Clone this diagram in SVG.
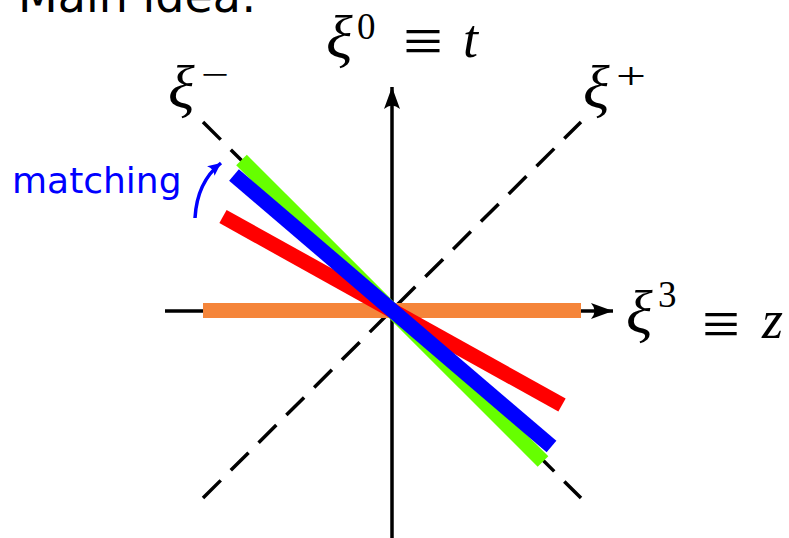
<svg xmlns="http://www.w3.org/2000/svg" width="789" height="538" viewBox="0 0 789 538">
<style>
.ax{stroke:#000;stroke-width:3.5;fill:none}
.dash{stroke:#000;stroke-width:3.5;fill:none;stroke-dasharray:25 14.2}
.bar{stroke-width:15;fill:none;stroke-linecap:butt}
.m{font-family:"Liberation Serif","DejaVu Serif",serif;font-size:54px;fill:#000}
.xi{font-style:italic;font-size:62px}
.mi{font-style:italic}
.eq{font-size:66px}
.sup{font-size:37px}
.sans{font-family:"DejaVu Sans",sans-serif}
</style>
<defs>
<marker id="ah" markerUnits="userSpaceOnUse" viewBox="-24 -10 26 20" markerWidth="26" markerHeight="20" refX="0" refY="0" orient="auto">
<path d="M0,0 L-22,-8 Q-15,0 -22,8 Z" fill="#000"/>
</marker>
<marker id="bh" markerUnits="userSpaceOnUse" viewBox="-16 -8 18 16" markerWidth="18" markerHeight="16" refX="0" refY="0" orient="auto">
<path d="M0,0 L-13,-6 Q-9,0 -13,6 Z" fill="#0000ff"/>
</marker>
</defs>
<text class="sans" x="18" y="12" font-size="46" fill="#000">Main idea:</text>
<g id="connectors">
<line class="dash" x1="203" y1="122" x2="581" y2="498"/>
<line class="dash" x1="203" y1="498" x2="581" y2="122"/>
<line class="ax" x1="392" y1="538" x2="392" y2="87" marker-end="url(#ah)"/>
<line class="ax" x1="165" y1="311" x2="613" y2="311" marker-end="url(#ah)"/>
<path d="M195,218 Q197,182 221,163" stroke="#0000ff" stroke-width="3.5" fill="none" marker-end="url(#bh)"/>
</g>
<g id="orange"><line class="bar" stroke="#f5853a" x1="203" y1="310.5" x2="581" y2="310.5"/></g>
<g id="green"><line class="bar" stroke="#66ff00" x1="241.5" y1="160" x2="543" y2="461.5"/></g>
<g id="red"><line class="bar" stroke="#ff0000" x1="223" y1="216.5" x2="562" y2="405"/></g>
<g id="blue"><line class="bar" stroke="#0000ff" x1="234" y1="175" x2="551.5" y2="446.5"/></g>
<g id="label-t">
<text class="m xi" x="326" y="58">ξ</text>
<text class="m sup" x="357" y="39">0</text>
<text class="m eq" x="403" y="63" textLength="40" lengthAdjust="spacingAndGlyphs">≡</text>
<text class="m mi" x="463" y="57">t</text>
</g>
<g id="label-minus">
<text class="m xi" x="168" y="108">ξ</text>
<text class="m sup" x="201" y="87" textLength="28" lengthAdjust="spacingAndGlyphs">−</text>
</g>
<g id="label-plus">
<text class="m xi" x="583" y="108">ξ</text>
<text class="m sup" x="616" y="89" textLength="30" lengthAdjust="spacingAndGlyphs">+</text>
</g>
<g id="label-z">
<text class="m xi" x="626" y="333">ξ</text>
<text class="m sup" x="658" y="307">3</text>
<text class="m eq" x="702" y="346" textLength="38" lengthAdjust="spacingAndGlyphs">≡</text>
<text class="m mi" x="762" y="338">z</text>
</g>
<g id="matching"><text class="sans" x="12" y="193" font-size="36" fill="#0000ff">matching</text></g>
</svg>
